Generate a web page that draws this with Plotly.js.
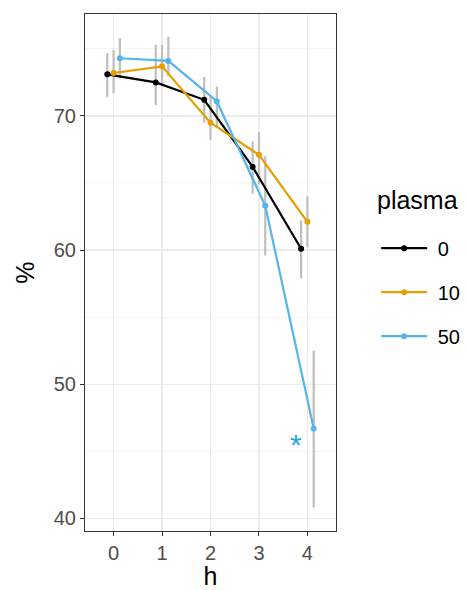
<!DOCTYPE html>
<html>
<head>
<meta charset="utf-8">
<script src="https://cdn.plot.ly/plotly-3.0.1.min.js"></script>
<style>html,body{margin:0;padding:0;background:#fff;}#chart{width:467px;height:590px;}</style>
</head>
<body>
<div id="chart"></div>
<script>
var h = [0, 1, 2, 3, 4];
var seriesNames = ["\u00A00", "\u00A010", "\u00A050"];
var pct0  = [73.1, 72.5, 71.2, 66.2, 60.1];
var lo0   = [71.4, 70.8, 69.5, 64.2, 57.9];
var hi0   = [74.7, 75.3, 72.9, 68.1, 62.2];
var pct10 = [73.2, 73.7, 69.5, 67.1, 62.1];
var lo10  = [71.7, 72.2, 68.2, 64.9, 60.2];
var hi10  = [74.9, 75.3, 71.4, 68.8, 64.0];
var pct50 = [74.3, 74.1, 71.1, 63.3, 46.7];
var lo50  = [72.8, 73.0, 69.1, 59.6, 40.8];
var hi50  = [75.8, 75.9, 72.2, 67.0, 52.5];
var yTicks = [40, 50, 60, 70];
var xTicks = [0, 1, 2, 3, 4];
var starX = 3.76, starY = 45.5, starText = "*";

var colors = ["#000000", "#E69F00", "#56B4E9"];
var dodge = [-0.13, 0, 0.13];
var vals = [pct0, pct10, pct50], los = [lo0, lo10, lo50], his = [hi0, hi10, hi50];

var traces = [];
for (var s = 0; s < 3; s++) {
  (function(s){
    var xs = h.map(function(v){ return v + dodge[s]; });
    traces.push({
      type: "scatter", mode: "markers", x: xs, y: vals[s],
      marker: {opacity: 0, size: 1},
      error_y: {type: "data", symmetric: false,
        array: his[s].map(function(v, i){ return v - vals[s][i]; }),
        arrayminus: los[s].map(function(v, i){ return vals[s][i] - v; }),
        color: "#BEBEBE", thickness: 2.2, width: 0},
      showlegend: false, hoverinfo: "skip"
    });
  })(s);
}
for (var s2 = 0; s2 < 3; s2++) {
  (function(s){
    var xs = h.map(function(v){ return v + dodge[s]; });
    traces.push({
      type: "scatter", mode: "lines+markers", x: xs, y: vals[s],
      name: seriesNames[s], legendgroup: "g" + s,
      line: {color: colors[s], width: 2.2},
      marker: {color: colors[s], size: 6}
    });
  })(s2);
}

var layout = {
  width: 467, height: 590,
  margin: {l: 85, r: 131, t: 14, b: 59, autoexpand: false},
  paper_bgcolor: "#ffffff", plot_bgcolor: "#ffffff",
  font: {family: "Liberation Sans, Arial, sans-serif", color: "#4D4D4D"},
  showlegend: true,
  xaxis: {
    range: [-0.59, 4.59], tickvals: xTicks, ticktext: xTicks.map(String),
    showgrid: true, gridcolor: "#EBEBEB", gridwidth: 1.3,
    zeroline: false, showline: true, mirror: true, linecolor: "#333333", linewidth: 1,
    ticks: "outside", ticklen: 4, tickcolor: "#333333", tickwidth: 1,
    tickfont: {size: 20, color: "#4D4D4D"},
    title: {text: "h", font: {size: 25, color: "#000000"}, standoff: 7}
  },
  yaxis: {
    range: [39.05, 77.6], tickvals: yTicks, ticktext: yTicks.map(String),
    showgrid: true, gridcolor: "#EBEBEB", gridwidth: 1.3,
    minor: {tickvals: [45, 55, 65, 75], showgrid: true, gridcolor: "#F2F2F2", gridwidth: 0.8, ticks: ""},
    zeroline: false, showline: true, mirror: true, linecolor: "#333333", linewidth: 1,
    ticks: "outside", ticklen: 4, tickcolor: "#333333", tickwidth: 1,
    tickfont: {size: 20, color: "#4D4D4D"},
    title: {text: "%", font: {size: 25, color: "#000000"}, standoff: 12}
  },
  legend: {
    x: 1.16, xanchor: "left", y: 0.462, yanchor: "middle",
    traceorder: "grouped", tracegroupgap: 15, itemwidth: 46,
    font: {size: 20, color: "#000000"},
    bgcolor: "rgba(0,0,0,0)"
  },
  annotations: [{
    x: 0, y: 0, xref: "paper", yref: "paper", text: "plasma", showarrow: false,
    font: {size: 25, color: "#000000"}, xanchor: "left", yanchor: "middle"
  }, {
    x: starX, y: starY, xref: "x", yref: "y", text: starText, showarrow: false,
    font: {size: 30, color: "#1FA6E2"}, xanchor: "center", yanchor: "middle"
  }]
};
var pw = layout.width - layout.margin.l - layout.margin.r;
var ph = layout.height - layout.margin.t - layout.margin.b;
layout.annotations[0].x = (375 - layout.margin.l) / pw;
layout.annotations[0].y = 1 - (200 - layout.margin.t) / ph;

Plotly.newPlot("chart", traces, layout, {displayModeBar: false, staticPlot: true});
</script>
</body>
</html>
